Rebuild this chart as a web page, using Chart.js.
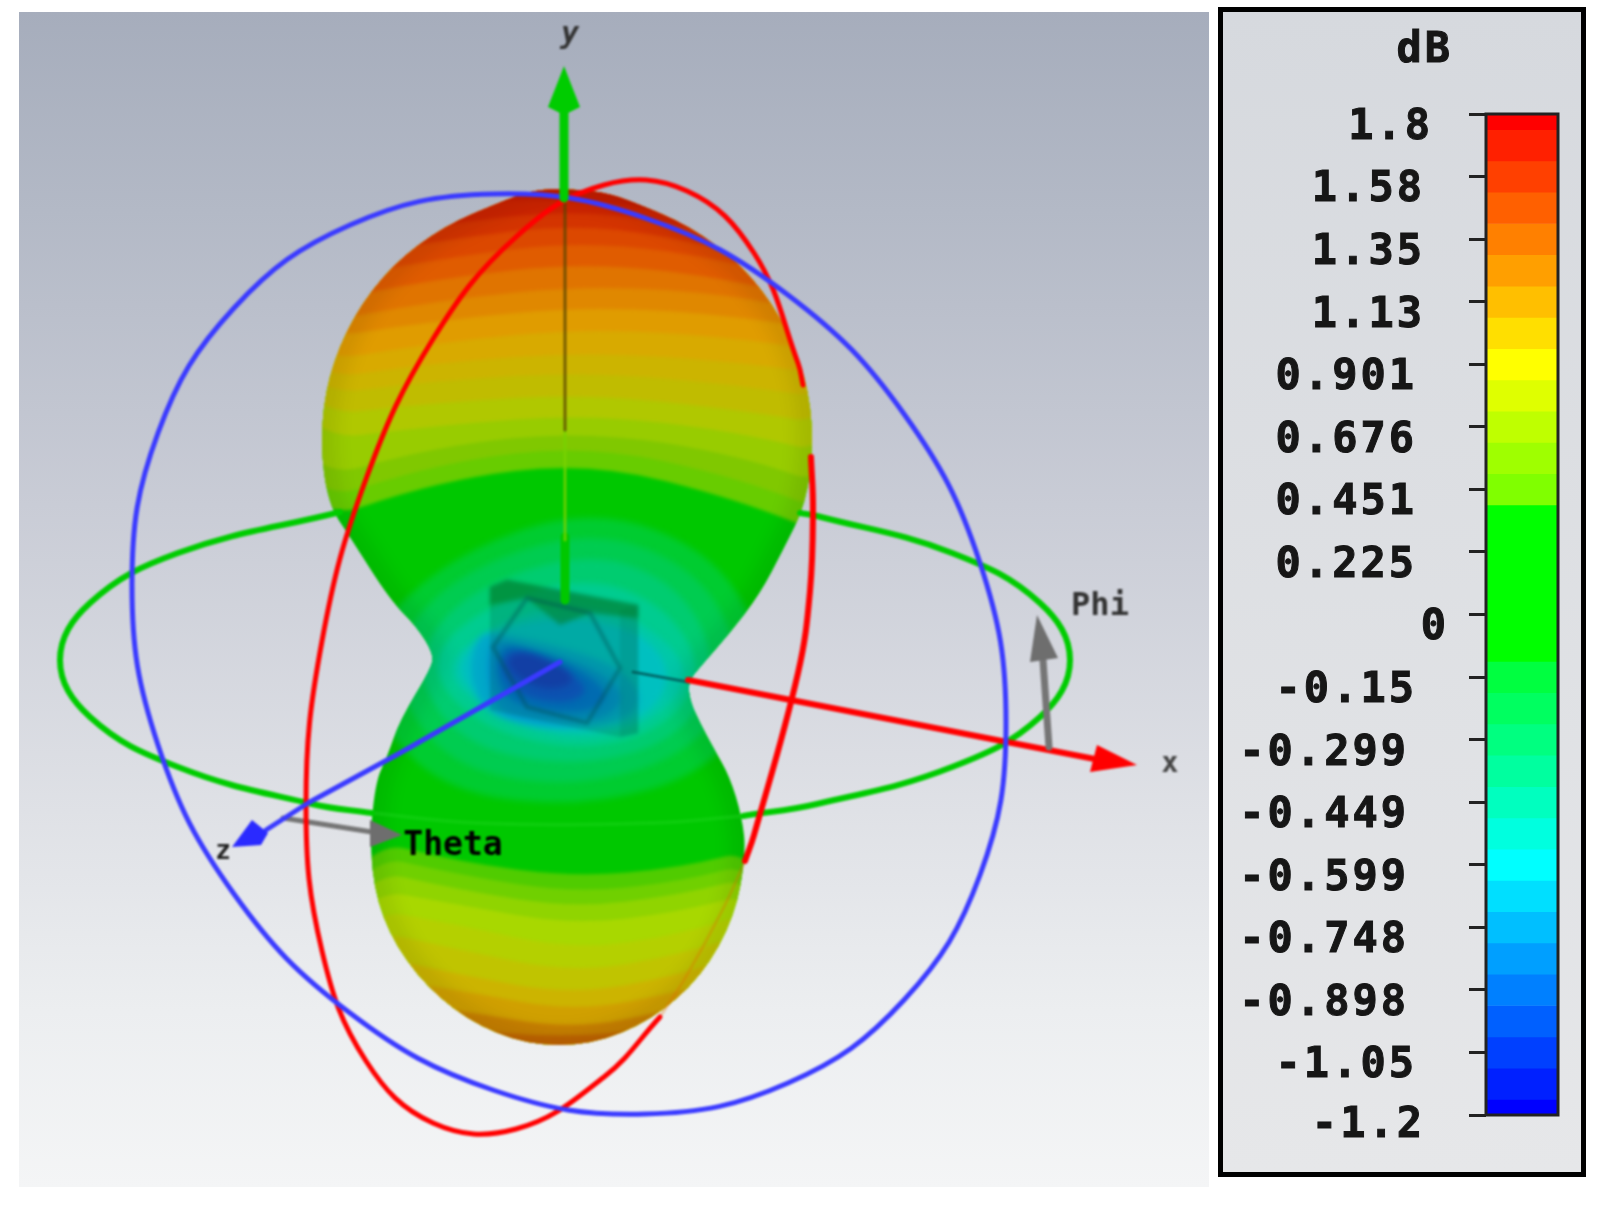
<!DOCTYPE html>
<html><head><meta charset="utf-8">
<script src="https://cdn.jsdelivr.net/npm/chart.js@4"></script>
<style>
html,body{margin:0;padding:0;background:#fff;overflow:hidden;width:1603px;height:1214px}
#scene{position:absolute;left:19px;top:12px;width:1190px;height:1175px;
 background:linear-gradient(#a6adbc 0%,#b3b9c6 17%,#c9ccd6 42%,#dfe1e6 68%,#eceef0 85%,#f4f5f6 100%)}
#main{position:absolute;left:0;top:0;filter:blur(.8px)}
#panel{position:absolute;left:1218px;top:7px;width:358px;height:1160px;border:5px solid #000;
 background:linear-gradient(#d6d9de,#e6e7e9)}
#bar{position:absolute;left:0;top:0;filter:blur(.6px)}
</style></head><body>
<div id="scene"></div>
<canvas id="main" width="1603" height="1214"></canvas>
<div id="panel"><canvas id="bar" width="358" height="1160"></canvas></div>
<script>
/* ---------- colour scale ---------- */
const unitLabel = 'dB';
const tickLabels = ['1.8','1.58','1.35','1.13','0.901','0.676','0.451','0.225','0','-0.15','-0.299','-0.449','-0.599','-0.748','-0.898','-1.05','-1.2'];
const bandEdges = [16,15.75,15.25,14.75,14.25,13.75,13.25,12.75,12.25,11.75,11.25,10.75,10.25,9.75,9.25,8.75,8.25,7.75,7.25,6.75,6.25,5.75,5.25,4.75,4.25,3.75,3.25,2.75,2.25,1.75,1.25,0.75,0.25,0];
const bandColors = ['#ff0000','#ff2000','#ff4000','#ff6000','#ff8000','#ff9f00','#ffbf00','#ffdf00','#ffff00','#dfff00','#bfff00','#9fff00','#80ff00','#00ff00','#00ff00','#00ff00','#00ff00','#00ff00','#00ff40','#00ff60','#00ff80','#00ff9f','#00ffbf','#00ffdf','#00ffff','#00dfff','#00bfff','#009fff','#0080ff','#0060ff','#0040ff','#0020ff','#0000ff'];

/* ---------- rings and axes ---------- */
const blueRing = [[980,563],[1006,723],[980,875],[904,1000],[788,1083],[645,1114],[493,1090],[350,1013],[234,894],[158,745],[132,585],[158,433],[234,308],[350,225],[493,194],[645,218],[788,295],[904,414],[980,563],[1006,723],[980,875]];
const redRingFront = [[660,1017],[604,1077],[516,1129],[433,1123],[366,1061],[322,951],[306,805],[322,641],[366,479],[433,339],[516,237],[604,185],[687,191],[754,253],[798,363],[803,385]];
const redRingSide = [[811,457],[813,509],[810,591],[798,673],[754,835],[745,861]];
const redRingFaint = [[745,861],[723,909],[687,975],[660,1017]];
const greenRingLeft = [[340,512],[178,553],[90,603],[60,660],[90,717],[178,767],[312,804],[372,813]];
const greenRingRight = [[743,816],[817,804],[952,767],[1040,717],[1070,660],[1040,603],[952,553],[817,516],[800,513]];
const greenRingFaint = [[372,813],[477,823],[653,823],[743,816]];
const axisYShaft = [[564,112],[564,198]];
const axisYInner = [[565,198],[565,430]];
const axisYFade = [[565,430],[565,540]];
const axisYLower = [[565,537],[565,600]];
const axisYHead = [[564,66],[580,107],[564,115],[548,107]];
const axisZLine = [[560,662],[400,753],[308,803],[266,830]];
const axisZHead = [[232,847],[252,820],[268,833],[261,845]];
const axisXInner = [[633,672],[688,682]];
const axisXLine = [[688,680],[1007,742],[1100,760]];
const axisXHead = [[1137,765],[1097,745],[1090,772]];
const phiShaft = [[1049,747],[1043,660]];
const phiHead = [[1037,615],[1058,658],[1030,662]];
const thetaShaft = [[283,818],[372,832]];
const thetaHead = [[402,835],[370,847],[370,820]];

/* ---------- radiation pattern ---------- */
const lobeOutline = [[534,190],[567,189],[603,192],[631,201],[690,226],[742,265],[781,316],[806,376],[814,440],[806,504],[783,550],[760,594],[730,633],[700,667],[688,682],[690,701],[700,723],[713,747],[730,777],[742,817],[746,853],[735,916],[702,976],[652,1020],[591,1045],[527,1045],[466,1020],[415,975],[381,918],[369,853],[375,783],[387,757],[400,720],[432,667],[433,653],[417,627],[390,600],[350,537],[328,504],[320,440],[328,376],[353,316],[392,265],[444,226],[503,201]];
const lobeBaseColor = '#00c800';
const coreColors = ['#00cc30','#00cc50','#00cc70','#00cc90','#00c8a8','#00c0c0','#00a8c8','#0090cc','#0070d0','#1050d0','#1838c0'];
const coreContours = [
 [[590,505],[720,555],[770,660],[720,770],[575,810],[420,785],[350,660],[440,560]],
 [[590,527],[700,570],[745,660],[700,750],[575,790],[440,765],[385,660],[450,575]],
 [[590,550],[680,585],[720,665],[680,740],[575,768],[460,745],[410,665],[465,590]],
 [[585,575],[665,605],[705,670],[665,730],[575,752],[475,725],[425,665],[475,610]],
 [[575,600],[650,625],[695,675],[650,725],[570,742],[490,715],[440,670],[490,625]],
 [[565,615],[640,630],[675,675],[645,720],[565,735],[495,710],[450,670],[490,630]],
 [[500,632],[610,660],[645,695],[625,722],[550,730],[485,715],[468,672],[478,635]],
 [[505,640],[590,665],[628,695],[605,720],[545,722],[495,712],[486,672],[490,642]],
 [[515,645],[575,665],[612,695],[590,712],[545,712],[505,700],[495,670],[500,648]],
 [[520,650],[565,668],[590,690],[570,703],[535,700],[510,688],[500,665],[507,652]],
 [[530,653],[565,668],[575,682],[555,690],[530,685],[512,672],[507,660],[515,654]]
];
const upperStopsX = [280,440,590,740,850];
const upperColors = ['#68cc00','#80c800','#98cc00','#b0c800','#c0bc00','#ccb400','#d8aa00','#e09c00','#e08800','#e07400','#e05c00','#dc4800','#d43400','#cc2400','#c41c00'];
const upperContourY = [
 [535,480,462,500,545],[515,462,445,478,522],[490,445,431,455,495],[445,425,414,432,460],[420,402,394,410,428],
 [400,380,372,385,402],[385,362,352,362,378],[368,342,328,338,355],[345,320,306,316,335],[330,300,285,295,322],
 [310,278,262,280,312],[290,258,240,262,298],[270,240,222,252,285],[250,224,208,238,272],[215,202,198,225,265]
];
const lowerStopsX = [350,460,573,680,770];
const lowerColors = ['#50cc00','#70d000','#90d400','#a8d800','#b4d000','#c0c400','#ccb400','#d0a000','#c88000','#c06400'];
const lowerContourY = [
 [835,862,877,868,845],[850,875,893,882,858],[865,890,908,895,872],[885,905,925,912,888],[905,925,950,935,905],
 [925,950,973,955,925],[950,975,995,975,945],[975,990,1012,992,965],[1000,1010,1030,1008,985],[1020,1030,1038,1025,1005]
];

/* ---------- antenna in the middle ---------- */
const deviceBox = [[490,587],[507,580],[638,605],[638,733],[620,737],[490,710]];
const deviceTopEdge = [[490,587],[507,580],[638,605],[638,618],[590,613],[560,625],[527,598],[490,605]];
const deviceSide = [[620,610],[638,605],[638,733],[620,737]];
const deviceHexagon = [[527,598],[590,613],[620,668],[587,723],[527,707],[493,647]];

/* ---------- labels ---------- */
const sceneLabels = [
 {text:'y',x:570,y:35,font:'italic bold 30px "DejaVu Sans Mono"',color:'#333'},
 {text:'x',x:1170,y:765,font:'bold 28px "DejaVu Sans Mono"',color:'#444'},
 {text:'z',x:223,y:852,font:'bold 26px "DejaVu Sans Mono"',color:'#222'},
 {text:'Theta',x:453,y:846,font:'bold 33px "DejaVu Sans Mono"',color:'#000'},
 {text:'Phi',x:1100,y:607,font:'bold 32px "DejaVu Sans Mono"',color:'#333'}
];

const P = a => a.map(p => ({x:p[0], y:p[1]}));
const line = (pts,color,w,tension=0.4) => ({data:P(pts),showLine:true,borderColor:color,borderWidth:w,tension,pointRadius:0,fill:false,borderCapStyle:'round',borderJoinStyle:'round'});
const shape = (pts,color,opts={}) => Object.assign({data:P(pts),region:true,regionColor:color,pointRadius:0,showLine:false},opts);

function smoothClosed(ctx,pts){
  const n=pts.length, mid=(a,b)=>({x:(a.x+b.x)/2,y:(a.y+b.y)/2});
  const s=mid(pts[n-1],pts[0]);
  ctx.beginPath(); ctx.moveTo(s.x,s.y);
  for(let i=0;i<n;i++){const m=mid(pts[i],pts[(i+1)%n]); ctx.quadraticCurveTo(pts[i].x,pts[i].y,m.x,m.y);}
  ctx.closePath();
}
const regionPlugin = {id:'regions',
  beforeDatasetDraw(chart,args){
    const ds=chart.data.datasets[args.index];
    if(!ds.region) return;
    const ctx=chart.ctx; ctx.save();
    if(ds.inLobe){ smoothClosed(ctx,chart.getDatasetMeta(0).data); ctx.clip(); }
    if(ds.soft) ctx.filter='blur('+ds.soft+'px)';
    if(ds.straight){ ctx.beginPath(); args.meta.data.forEach((p,i)=>i?ctx.lineTo(p.x,p.y):ctx.moveTo(p.x,p.y)); ctx.closePath(); }
    else smoothClosed(ctx,args.meta.data);
    if(ds.edgeStroke){ ctx.strokeStyle=ds.regionColor; ctx.lineWidth=ds.edgeStroke; ctx.stroke(); }
    else { ctx.fillStyle=ds.regionColor; ctx.fill(); }
    ctx.restore();
    return false;
  },
  afterDatasetsDraw(chart){
    const ctx=chart.ctx, sx=chart.scales.x, sy=chart.scales.y;
    ctx.save(); ctx.textAlign='center'; ctx.textBaseline='middle';
    sceneLabels.forEach(l=>{ctx.font=l.font; ctx.fillStyle=l.color; ctx.fillText(l.text,sx.getPixelForValue(l.x),sy.getPixelForValue(l.y));});
    ctx.restore();
  }
};

const ds=[];
ds.push(shape(lobeOutline,lobeBaseColor));
coreContours.forEach((c,i)=>ds.push(shape(c,coreColors[i],{inLobe:true,soft:3})));
upperContourY.forEach((ys,i)=>{
  const pts=upperStopsX.map((x,k)=>[x,ys[k]]).concat([[980,60],[150,60]]);
  ds.push(shape(pts,upperColors[i],{inLobe:true,soft:1.5}));
});
lowerContourY.forEach((ys,i)=>{
  const pts=lowerStopsX.map((x,k)=>[x,ys[k]]).concat([[900,1180],[220,1180]]);
  ds.push(shape(pts,lowerColors[i],{inLobe:true,soft:1.5}));
});
ds.push(shape(lobeOutline,'rgba(0,0,0,.07)',{inLobe:true,edgeStroke:30,soft:8}));
ds.push(line(greenRingFaint,'rgba(40,220,40,.3)',4));
ds.push(line(redRingFaint,'rgba(225,110,0,.3)',3));
ds.push(shape(deviceBox,'rgba(0,90,70,.22)',{straight:true,soft:1.5}));
ds.push(shape(deviceSide,'rgba(0,110,90,.18)',{straight:true,soft:1.5}));
ds.push(shape(deviceTopEdge,'rgba(0,120,30,.5)',{straight:true,soft:2}));
ds.push(shape(deviceHexagon,'rgba(0,80,80,.4)',{straight:true,edgeStroke:4,soft:1.5}));
ds.push(line(axisXInner,'rgba(0,90,90,.8)',3,0));
ds.push(line(axisYLower,'#00c800',9,0));
ds.push(line(axisYFade,'rgba(120,210,0,.8)',3,0));
ds.push(line(axisYInner,'rgba(90,70,0,.75)',3,0));
ds.push(line(greenRingLeft,'#00cc00',6));
ds.push(line(greenRingRight,'#00cc00',6));
ds.push(line(redRingSide,'#ff0000',6));
ds.push(line(axisXLine,'#ff0000',6,0));
ds.push(shape(axisXHead,'#ff0000',{straight:true}));
ds.push(line(phiShaft,'#757575',7,0));
ds.push(shape(phiHead,'#6e6e6e',{straight:true}));
ds.push(line(thetaShaft,'#757575',5,0));
ds.push(shape(thetaHead,'#6e6e6e',{straight:true}));
ds.push(line(redRingFront,'#ff0000',5));
/* first and last stretch of the ring only give the curve its tangents */
const lastBlue = blueRing.length-1;
ds.push(Object.assign(line(blueRing,'#3a3aff',5),{segment:{borderColor:c=>(c.p0DataIndex===0||c.p1DataIndex===lastBlue)?'rgba(0,0,0,0)':undefined}}));
ds.push(line(axisZLine,'#3a3aff',5,0));
ds.push(shape(axisZHead,'#2a2aff',{straight:true}));
ds.push(line(axisYShaft,'#00cc00',9,0));
ds.push(shape(axisYHead,'#00cc00',{straight:true}));
ds.forEach((d,i)=>{d.order=ds.length-i;});

new Chart(document.getElementById('main'),{
  type:'scatter',
  data:{datasets:ds},
  plugins:[regionPlugin],
  options:{responsive:false,animation:false,devicePixelRatio:1,
    layout:{padding:0},
    plugins:{legend:{display:false},tooltip:{enabled:false},title:{display:false}},
    scales:{x:{type:'linear',min:0,max:1603,display:false},
            y:{type:'linear',min:0,max:1214,reverse:true,display:false}}}
});

/* ---------- colour bar ---------- */
const barPlugin={id:'barDecor',
  afterDraw(chart){
    const ctx=chart.ctx,a=chart.chartArea,sy=chart.scales.y;
    ctx.save();
    ctx.strokeStyle='#222'; ctx.lineWidth=3;
    ctx.strokeRect(a.left,a.top,a.right-a.left,a.bottom-a.top);
    ctx.fillStyle='#161616'; ctx.strokeStyle='#161616'; ctx.lineWidth=1;
    ctx.textBaseline='middle'; ctx.textAlign='right';
    ctx.font='bold 42px "DejaVu Sans Mono"'; ctx.letterSpacing='3px';
    const n=tickLabels.length;
    tickLabels.forEach((t,i)=>{
      const yy=sy.getPixelForValue(n-1-i)+(i===n-1?11:14);
      const xx=a.left-38-8*t.length+9;
      ctx.fillText(t,xx,yy); ctx.strokeText(t,xx,yy);
    });
    ctx.fillText(unitLabel,a.left-33,39); ctx.strokeText(unitLabel,a.left-33,39);
    ctx.restore();
  }};
new Chart(document.getElementById('bar'),{
  type:'bar',
  data:{labels:[unitLabel],datasets:bandColors.map((c,i)=>({data:[[bandEdges[i+1],bandEdges[i]]],backgroundColor:c,barPercentage:1,categoryPercentage:1,grouped:false}))},
  plugins:[barPlugin],
  options:{responsive:false,animation:false,devicePixelRatio:1,
    layout:{padding:{top:102,bottom:57,right:23,left:0}},
    plugins:{legend:{display:false},tooltip:{enabled:false}},
    scales:{x:{display:false,grid:{display:false}},
      y:{type:'linear',min:0,max:16,position:'left',
         ticks:{display:false,stepSize:1},
         border:{display:false},
         grid:{drawOnChartArea:false,drawTicks:true,tickLength:17,tickWidth:3,tickColor:'#222'},
         afterFit(s){s.width=263;}}}}
});
</script>
</body></html>
